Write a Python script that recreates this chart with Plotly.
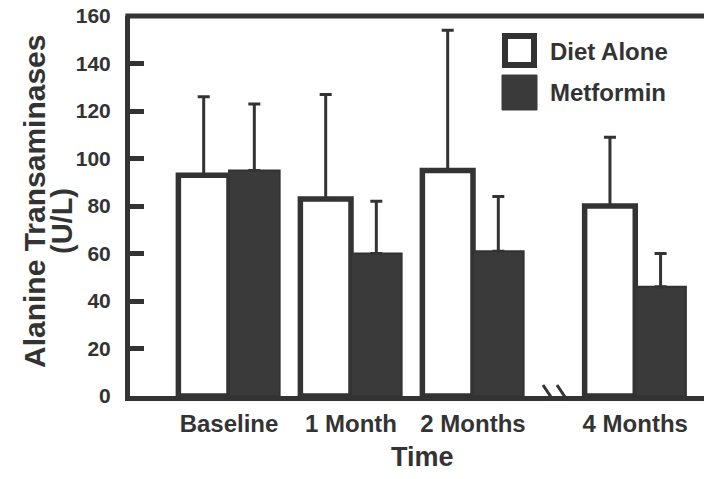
import plotly.graph_objects as go

# ---- data ----
periods = ["Baseline", "1 Month", "2 Months", "4 Months"]
diet_alone = [93, 83, 95, 80]
diet_alone_err = [33, 44, 59, 29]
metformin = [95, 60, 61, 46]
metformin_err = [28, 22, 23, 14]
y_ticks = [0, 20, 40, 60, 80, 100, 120, 140, 160]

# ---- layout helpers ----
# The page body adds an 8px margin, so the figure is drawn 8px smaller
OFF = 8
W, H = 712 - OFF, 479 - OFF
ML, MR, MT, MB = 122, 0, 8, 83
PW, PH = W - ML - MR, H - MT - MB
group_pos = [0, 1, 2, 3.33]          # extra gap before 4 Months (axis break)
x_range = [(130 - 229) / 122, (712 - 229) / 122]
y_range = [0, 160]
INK = "#333333"
FILL = "#3a3a3a"
FONT = "Liberation Sans, Arial, sans-serif"


def px_x(px):
    """reference-screen pixel x -> paper x"""
    return (px - OFF - ML) / PW


def px_y(py):
    """reference-screen pixel y -> paper y"""
    return (H - MB - (py - OFF)) / PH


fig = go.Figure()
fig.add_trace(go.Bar(
    x=group_pos, y=diet_alone, name="Diet Alone",
    marker=dict(color="white", line=dict(color=INK, width=5.5)),
    error_y=dict(type="data", symmetric=False, array=diet_alone_err,
                 arrayminus=[0] * len(diet_alone), color=INK, thickness=3, width=6),
))
fig.add_trace(go.Bar(
    x=group_pos, y=metformin, name="Metformin",
    marker=dict(color=FILL, line=dict(color=INK, width=2)),
    error_y=dict(type="data", symmetric=False, array=metformin_err,
                 arrayminus=[0] * len(metformin), color=INK, thickness=3, width=6),
))

shapes = []
# top border
shapes.append(dict(type="line", xref="paper", yref="paper", x0=-0.008, x1=1.0,
                   y0=1, y1=1, line=dict(color=INK, width=5)))
# axis break marks
for sx0, sy0, sx1, sy1 in [(543, 385, 553, 400), (557, 385, 567, 400)]:
    shapes.append(dict(type="line", xref="paper", yref="paper",
                       x0=px_x(sx0), y0=px_y(sy0), x1=px_x(sx1), y1=px_y(sy1),
                       line=dict(color=INK, width=3)))
# legend boxes
shapes.append(dict(type="rect", xref="paper", yref="paper",
                   x0=px_x(505), x1=px_x(534), y0=px_y(36), y1=px_y(65),
                   fillcolor="white", line=dict(color=INK, width=6)))
shapes.append(dict(type="rect", xref="paper", yref="paper",
                   x0=px_x(502), x1=px_x(537), y0=px_y(75), y1=px_y(110),
                   fillcolor=FILL, line=dict(color=FILL, width=1)))

annotations = [
    dict(text="Diet Alone", xref="paper", yref="paper", x=px_x(548), y=px_y(52),
         xanchor="left", yanchor="middle", showarrow=False,
         font=dict(size=24, color=INK, family=FONT, weight="bold")),
    dict(text="Metformin", xref="paper", yref="paper", x=px_x(548), y=px_y(93),
         xanchor="left", yanchor="middle", showarrow=False,
         font=dict(size=24, color=INK, family=FONT, weight="bold")),
    dict(text="Time", xref="paper", yref="paper", x=px_x(422), y=px_y(457),
         xanchor="center", yanchor="middle", showarrow=False,
         font=dict(size=27, color=INK, family=FONT, weight="bold")),
    dict(text="Alanine Transaminases", xref="paper", yref="paper",
         x=px_x(35), y=px_y(201), textangle=-90,
         xanchor="center", yanchor="middle", showarrow=False,
         font=dict(size=30, color=INK, family=FONT, weight="bold")),
    dict(text="(U/L)", xref="paper", yref="paper",
         x=px_x(62), y=px_y(221), textangle=-90,
         xanchor="center", yanchor="middle", showarrow=False,
         font=dict(size=29, color=INK, family=FONT, weight="bold")),
]

fig.update_layout(
    width=W, height=H,
    margin=dict(l=ML, r=MR, t=MT, b=MB, pad=0, autoexpand=False),
    paper_bgcolor="white", plot_bgcolor="white",
    barmode="group", bargap=0.17, bargroupgap=0,
    showlegend=False,
    font=dict(family=FONT, color=INK),
    shapes=shapes, annotations=annotations,
    xaxis=dict(range=x_range, tickvals=group_pos, ticktext=periods,
               automargin=False, ticklabeloverflow="allow",
               showline=True, linewidth=5, linecolor=INK, ticks="",
               showgrid=False, zeroline=False, ticklabelstandoff=2,
               tickfont=dict(size=24, color=INK, family=FONT, weight="bold")),
    yaxis=dict(range=y_range, tickvals=y_ticks, automargin=False,
               ticklabeloverflow="allow",
               showline=True, linewidth=5, linecolor=INK,
               ticks="inside", ticklen=14, tickwidth=5, tickcolor=INK,
               showgrid=False, zeroline=False, ticklabelstandoff=10,
               tickfont=dict(size=21, color=INK, family=FONT, weight="bold")),
)

fig.write_html("out.html")
